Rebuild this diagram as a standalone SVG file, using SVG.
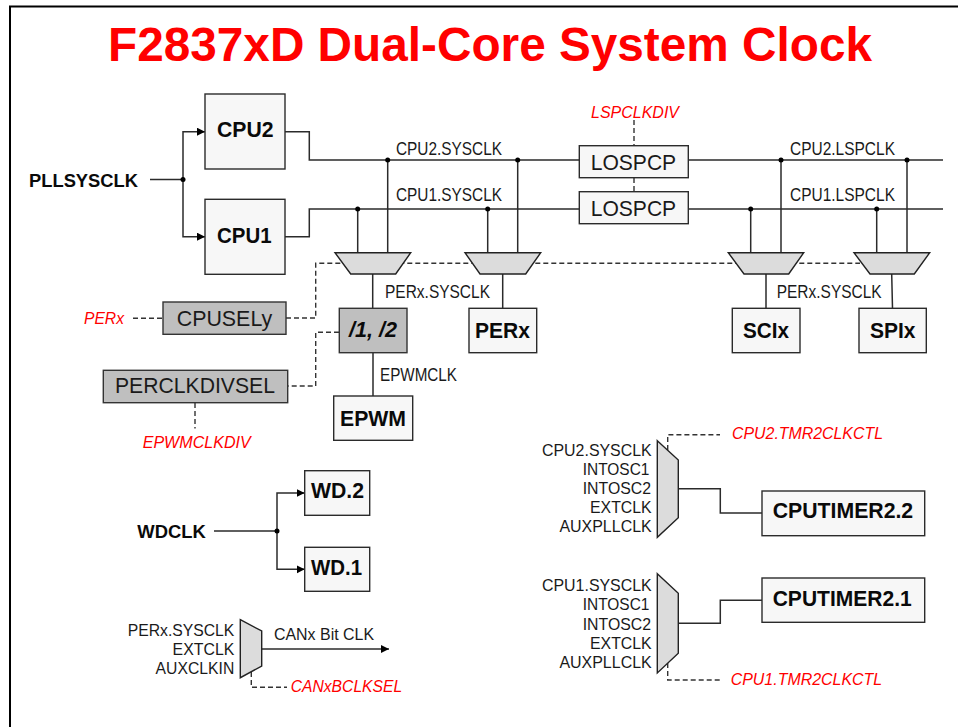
<svg xmlns="http://www.w3.org/2000/svg" width="958" height="727" viewBox="0 0 958 727">
<style>
text{font-family:"Liberation Sans",Arial,sans-serif;fill:#1a1a1a}
.box{fill:#f7f7f7;stroke:#2b2b2b;stroke-width:1.4}
.gray{fill:#bfbfbf;stroke:#333;stroke-width:1.4}
.mux{fill:#dcdcdc;stroke:#222;stroke-width:1.4}
.w{fill:none;stroke:#2b2b2b;stroke-width:1.5}
.d{fill:none;stroke:#333;stroke-width:1.4;stroke-dasharray:5 3}
.dot{fill:#000}
.b{font-weight:700;fill:#0a0a0a}
.n{font-size:22px}
.l{font-size:17.5px}
.m{font-size:16.5px}
.r{font-size:16.5px;font-style:italic;fill:#f00}
</style>
<defs>
<marker id="arr" markerUnits="userSpaceOnUse" markerWidth="9" markerHeight="9" refX="8" refY="4" orient="auto"><path d="M0 0L8 4L0 8Z" fill="#000"/></marker>
</defs>
<rect width="958" height="727" fill="#fff"/>
<path d="M10 727V6.500H958" fill="none" stroke="#000" stroke-width="2"/>
<text x="108" y="61" font-size="48" font-weight="700" style="fill:#f00" textLength="764" lengthAdjust="spacingAndGlyphs">F2837xD Dual-Core System Clock</text>

<g id="connectors">
<path class="w" d="M150 179.500H183M183 179.500V131.700H205" marker-end="url(#arr)"/>
<path class="w" d="M183 179.500V236.700H205" marker-end="url(#arr)"/>
<path class="w" d="M285 131.700H309.300V160H579M688 160H943"/>
<path class="w" d="M285 236.700H309.300V209H579M688 209H943"/>
<path class="w" d="M387.700 160V253M517.700 160V253M781 160V253M907 160V253"/>
<path class="w" d="M357.700 209V253M487.700 209V253M750.700 209V253M876.700 209V253"/>
<path class="w" d="M372.700 274V308.300M502.700 274V308.300M766 274V308.300M891.700 274L892.500 308.300M373 352.700V396"/>
<path class="d" d="M286 318H315.700V263.300H860"/>
<path class="d" d="M133 318.300H163"/>
<path class="d" d="M339 332.300H315.700V386H288"/>
<path class="d" d="M195 403V428.500"/>
<path class="d" d="M634 120V146M634 178V192"/>
<path class="w" d="M214 531H277V493H304.700" marker-end="url(#arr)"/>
<path class="w" d="M277 531V569.300H304.700" marker-end="url(#arr)"/>
<path class="w" d="M262 649H389" marker-end="url(#arr)"/>
<path class="d" d="M251.300 672V687.300H287"/>
<path class="w" d="M678.300 488.700H720.300V513H762"/>
<path class="w" d="M678.300 623.300H720.300V600.300H762"/>
<path class="d" d="M667.700 450V434.700H720"/>
<path class="d" d="M667.700 663V680H720"/>
<g class="dot">
<circle cx="183" cy="179.500" r="2.500"/><circle cx="387.700" cy="160" r="2.500"/><circle cx="517.700" cy="160" r="2.500"/><circle cx="781" cy="160" r="2.500"/><circle cx="907" cy="160" r="2.500"/><circle cx="357.700" cy="209" r="2.500"/><circle cx="487.700" cy="209" r="2.500"/><circle cx="750.700" cy="209" r="2.500"/><circle cx="876.700" cy="209" r="2.500"/><circle cx="277" cy="531" r="2.500"/>
</g>
</g>

<text id="pllsysclk" x="29" y="186.500" font-size="18.500" class="b" textLength="109" lengthAdjust="spacingAndGlyphs">PLLSYSCLK</text>
<g id="cpu2"><rect class="box" x="205" y="94" width="80" height="75"/><text class="b n" x="217" y="137.300" textLength="56.500" lengthAdjust="spacingAndGlyphs">CPU2</text></g>
<g id="cpu1"><rect class="box" x="205" y="199.300" width="80" height="75"/><text class="b n" x="217" y="242.500" textLength="54.500" lengthAdjust="spacingAndGlyphs">CPU1</text></g>
<g id="lospcp2"><rect class="box" x="579.300" y="145.700" width="109" height="32"/><text class="n" x="590.700" y="170" textLength="85.500" lengthAdjust="spacingAndGlyphs">LOSPCP</text></g>
<g id="lospcp1"><rect class="box" x="579.300" y="191.700" width="109" height="32"/><text class="n" x="590.700" y="216" textLength="85.500" lengthAdjust="spacingAndGlyphs">LOSPCP</text></g>
<g id="mux-a"><path class="mux" d="M335 252.700H410.700L395.700 274H350.700Z"/></g>
<g id="mux-b"><path class="mux" d="M465 252.700H540.700L525.700 274H480Z"/></g>
<g id="mux-c"><path class="mux" d="M728.300 252.700H803.700L788.700 274H744Z"/></g>
<g id="mux-d"><path class="mux" d="M854 252.700H929.700L914.300 274H870Z"/></g>
<g id="cpusel"><rect class="gray" x="163" y="302" width="123" height="32.300"/><text class="n" x="176.700" y="326" textLength="95.500" lengthAdjust="spacingAndGlyphs">CPUSELy</text></g>
<g id="div"><rect class="gray" x="339.300" y="308.300" width="67.700" height="44.400"/><text class="b n" font-style="italic" x="349" y="337" textLength="48" lengthAdjust="spacingAndGlyphs">/1, /2</text></g>
<g id="perx"><rect class="box" x="469" y="308.300" width="67.700" height="44.400"/><text class="b n" x="475" y="337.500" textLength="55" lengthAdjust="spacingAndGlyphs">PERx</text></g>
<g id="scix"><rect class="box" x="732.300" y="308.300" width="67.700" height="44.400"/><text class="b n" x="743" y="337.500" textLength="46" lengthAdjust="spacingAndGlyphs">SCIx</text></g>
<g id="spix"><rect class="box" x="859" y="308.300" width="67.300" height="44.400"/><text class="b n" x="870" y="337.500" textLength="45.500" lengthAdjust="spacingAndGlyphs">SPIx</text></g>
<g id="perclkdivsel"><rect class="gray" x="103.300" y="370.300" width="184.400" height="32.400"/><text class="n" x="115" y="393.300" textLength="160" lengthAdjust="spacingAndGlyphs">PERCLKDIVSEL</text></g>
<g id="epwm"><rect class="box" x="333.700" y="396" width="79" height="44.300"/><text class="b n" x="340" y="426" textLength="66" lengthAdjust="spacingAndGlyphs">EPWM</text></g>
<g id="wd2"><rect class="box" x="304.700" y="470.700" width="65" height="44.600"/><text class="b n" x="311" y="497.800" textLength="53" lengthAdjust="spacingAndGlyphs">WD.2</text></g>
<g id="wd1"><rect class="box" x="304.700" y="547.300" width="65" height="44"/><text class="b n" x="311" y="575" textLength="51" lengthAdjust="spacingAndGlyphs">WD.1</text></g>
<text id="wdclk" x="137.300" y="537.700" font-size="18.500" class="b" textLength="68.500" lengthAdjust="spacingAndGlyphs">WDCLK</text>
<g id="mux-can"><path class="mux" d="M240.300 619.700L261.700 631V666L240.300 677.700Z"/></g>
<g id="mux-t2"><path class="mux" d="M657.300 440.700L678.300 460V517.700L657.300 537.300Z"/></g>
<g id="mux-t1"><path class="mux" d="M657.300 573.700L678.300 593.300V653.300L657.300 673Z"/></g>
<g id="timer22"><rect class="box" x="762" y="491" width="162.700" height="44.700"/><text class="b n" x="772.700" y="518.300" textLength="140.500" lengthAdjust="spacingAndGlyphs">CPUTIMER2.2</text></g>
<g id="timer21"><rect class="box" x="762" y="578" width="162.700" height="44.300"/><text class="b n" x="772.700" y="605.700" textLength="139" lengthAdjust="spacingAndGlyphs">CPUTIMER2.1</text></g>

<g id="labels">
<text class="l" x="396" y="155" textLength="106" lengthAdjust="spacingAndGlyphs">CPU2.SYSCLK</text>
<text class="l" x="396" y="201" textLength="106" lengthAdjust="spacingAndGlyphs">CPU1.SYSCLK</text>
<text class="l" x="790" y="155" textLength="105" lengthAdjust="spacingAndGlyphs">CPU2.LSPCLK</text>
<text class="l" x="790" y="201" textLength="105" lengthAdjust="spacingAndGlyphs">CPU1.LSPCLK</text>
<text class="l" x="385" y="297.500" textLength="105" lengthAdjust="spacingAndGlyphs">PERx.SYSCLK</text>
<text class="l" x="776.700" y="297.500" textLength="105" lengthAdjust="spacingAndGlyphs">PERx.SYSCLK</text>
<text class="l" x="380" y="380.500" textLength="77" lengthAdjust="spacingAndGlyphs">EPWMCLK</text>
<text class="r" x="591" y="117.700" textLength="88" lengthAdjust="spacingAndGlyphs">LSPCLKDIV</text>
<text class="r" x="84" y="324" textLength="40" lengthAdjust="spacingAndGlyphs">PERx</text>
<text class="r" x="142.700" y="447.700" textLength="108" lengthAdjust="spacingAndGlyphs">EPWMCLKDIV</text>
<text class="r" x="290.700" y="691.700" textLength="111.500" lengthAdjust="spacingAndGlyphs">CANxBCLKSEL</text>
<text class="r" x="732" y="439" textLength="151" lengthAdjust="spacingAndGlyphs">CPU2.TMR2CLKCTL</text>
<text class="r" x="730.700" y="685" textLength="151.500" lengthAdjust="spacingAndGlyphs">CPU1.TMR2CLKCTL</text>
<text class="m" x="274" y="640" textLength="100" lengthAdjust="spacingAndGlyphs">CANx Bit CLK</text>
<text class="m" x="127.700" y="636" textLength="106.600" lengthAdjust="spacingAndGlyphs">PERx.SYSCLK</text>
<text class="m" x="172.600" y="655" textLength="61.700" lengthAdjust="spacingAndGlyphs">EXTCLK</text>
<text class="m" x="155.600" y="674" textLength="78.700" lengthAdjust="spacingAndGlyphs">AUXCLKIN</text>
<text class="m" x="542" y="455.700" textLength="109.700" lengthAdjust="spacingAndGlyphs">CPU2.SYSCLK</text>
<text class="m" x="582.700" y="475" textLength="66.700" lengthAdjust="spacingAndGlyphs">INTOSC1</text>
<text class="m" x="582.700" y="494" textLength="68.300" lengthAdjust="spacingAndGlyphs">INTOSC2</text>
<text class="m" x="590" y="513" textLength="61.700" lengthAdjust="spacingAndGlyphs">EXTCLK</text>
<text class="m" x="559.400" y="532" textLength="92.300" lengthAdjust="spacingAndGlyphs">AUXPLLCLK</text>
<text class="m" x="542" y="591" textLength="109.700" lengthAdjust="spacingAndGlyphs">CPU1.SYSCLK</text>
<text class="m" x="582.700" y="610.300" textLength="66.700" lengthAdjust="spacingAndGlyphs">INTOSC1</text>
<text class="m" x="582.700" y="630" textLength="68.300" lengthAdjust="spacingAndGlyphs">INTOSC2</text>
<text class="m" x="590" y="648.700" textLength="61.700" lengthAdjust="spacingAndGlyphs">EXTCLK</text>
<text class="m" x="559.400" y="668" textLength="92.300" lengthAdjust="spacingAndGlyphs">AUXPLLCLK</text>
</g>
</svg>
